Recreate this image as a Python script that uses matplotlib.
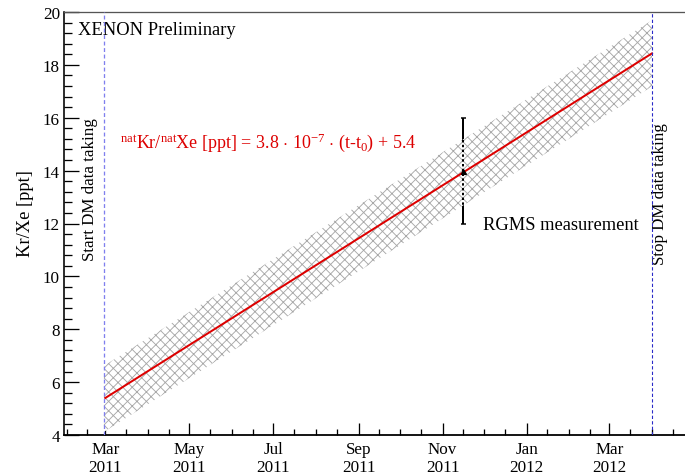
from datetime import datetime

import matplotlib
matplotlib.use("Agg")
import matplotlib.pyplot as plt
import matplotlib.dates as mdates
from matplotlib.ticker import MultipleLocator

DPI = 85


def pt(px):
    """Pixel size at the output resolution -> points."""
    return px * 72.0 / DPI


# ---- data ---------------------------------------------------------------
start_dm = datetime(2011, 2, 28)     # start of DM data taking
stop_dm = datetime(2012, 4, 1)       # stop of DM data taking
fit_t0 = datetime(2011, 3, 1)

fit_slope = 3.8e-7                   # ppt per second
fit_offset = 5.4                     # ppt at t0
band_halfwidth = 1.25                # ppt

rgms_date = [datetime(2011, 11, 16)]
rgms_value = [14.0]
rgms_err = [2.0]

x_range = [datetime(2011, 1, 30), datetime(2012, 4, 25)]
y_range = [4, 20]


def fit(t):
    return fit_slope * (t - fit_t0).total_seconds() + fit_offset


fit_dates = [fit_t0, stop_dm]
fit_values = [fit(t) for t in fit_dates]
band_dates = [start_dm, stop_dm]
band_center = [fit(t) for t in band_dates]
band_lo = [v - band_halfwidth for v in band_center]
band_hi = [v + band_halfwidth for v in band_center]

# ---- style --------------------------------------------------------------
plt.rcParams["font.family"] = ["Liberation Serif", "DejaVu Serif"]
plt.rcParams["mathtext.fontset"] = "custom"
plt.rcParams["mathtext.rm"] = "Liberation Serif"
plt.rcParams["mathtext.it"] = "Liberation Serif:italic"
plt.rcParams["hatch.linewidth"] = pt(0.9)
plt.rcParams["hatch.color"] = "#a8a8a8"

fig = plt.figure(figsize=(685 / DPI, 477 / DPI), dpi=DPI)
ax = fig.add_axes([64 / 685, 41 / 477, 1 - 64 / 685, 423 / 477])

# measurement error bar (solid outside the band, dashed on top of it)
ax.errorbar(rgms_date, rgms_value, yerr=rgms_err, fmt="none", ecolor="black",
            elinewidth=pt(2), capsize=pt(2.5), capthick=pt(1.5), zorder=2)

ax.fill_between(band_dates, band_lo, band_hi, facecolor="white",
                edgecolor="#a8a8a8", hatch="xxx", linewidth=0, zorder=3)

ax.vlines(rgms_date, [v - e for v, e in zip(rgms_value, rgms_err)],
          [v + e for v, e in zip(rgms_value, rgms_err)],
          colors="black", linewidth=pt(2), linestyles=(0, (1.2, 1.2)), zorder=4)

ax.plot(fit_dates, fit_values, color="#dd0000", linewidth=pt(2), zorder=5)
ax.plot(rgms_date, rgms_value, linestyle="none", marker="^", color="black",
        markersize=pt(5), zorder=6)

ax.axvline(start_dm, color="#7f7fee", linewidth=pt(1.3), linestyle=(0, (3, 2)), zorder=6)
ax.axvline(stop_dm, color="#2a2ac8", linewidth=pt(1.1), linestyle=(0, (3, 2)), zorder=6)

# ---- axes ---------------------------------------------------------------
ax.set_xlim(x_range)
ax.set_ylim(y_range)

ax.xaxis.set_major_locator(mdates.MonthLocator(bymonth=[1, 3, 5, 7, 9, 11]))
ax.xaxis.set_major_formatter(mdates.DateFormatter("%b\n%Y"))
ax.xaxis.set_minor_locator(mdates.DayLocator(bymonthday=[1, 16]))
ax.yaxis.set_major_locator(MultipleLocator(2))
ax.yaxis.set_minor_locator(MultipleLocator(0.4))

ax.tick_params(axis="both", which="both", direction="in", top=False, right=False,
               width=pt(1.3), labelsize=pt(17))
ax.tick_params(axis="y", which="major", length=pt(15), pad=pt(4))
ax.tick_params(axis="y", which="minor", length=pt(8))
ax.tick_params(axis="x", which="major", length=pt(12.5), pad=pt(6))
ax.tick_params(axis="x", which="minor", length=pt(6.5))
for lbl in ax.get_xticklabels():
    lbl.set_linespacing(1.2)

ax.spines["right"].set_visible(False)
ax.spines["left"].set_linewidth(pt(1.6))
ax.spines["bottom"].set_linewidth(pt(1.8))
ax.spines["top"].set_linewidth(pt(1.3))
ax.spines["top"].set_color("#555555")

ax.set_ylabel("Kr/Xe [ppt]", fontsize=pt(18.5))
ax.yaxis.set_label_coords(-0.048, 0.527)

# ---- annotations --------------------------------------------------------
ax.text(0.0225, 0.948, "XENON Preliminary", transform=ax.transAxes,
        fontsize=pt(18.5), va="baseline", ha="left")
ax.text(0.090, 0.681,
        r"$^{\mathrm{nat}}$Kr/$^{\mathrm{nat}}$Xe [ppt] = 3.8 $\cdot$ 10$^{\mathrm{-7}}$"
        r" $\cdot$ (t-t$_{\mathrm{0}}$) + 5.4",
        transform=ax.transAxes, fontsize=pt(18), color="#dd0000",
        va="baseline", ha="left")
ax.text(0.675, 0.487, "RGMS measurement", transform=ax.transAxes,
        fontsize=pt(18.5), va="baseline", ha="left")
ax.text(0.042, 0.752, "Start DM data taking", transform=ax.transAxes,
        fontsize=pt(17), rotation=90, ha="center", va="top")
ax.text(0.960, 0.740, "Stop DM data taking", transform=ax.transAxes,
        fontsize=pt(17), rotation=90, ha="center", va="top")

fig.savefig("out.png", dpi=DPI)
